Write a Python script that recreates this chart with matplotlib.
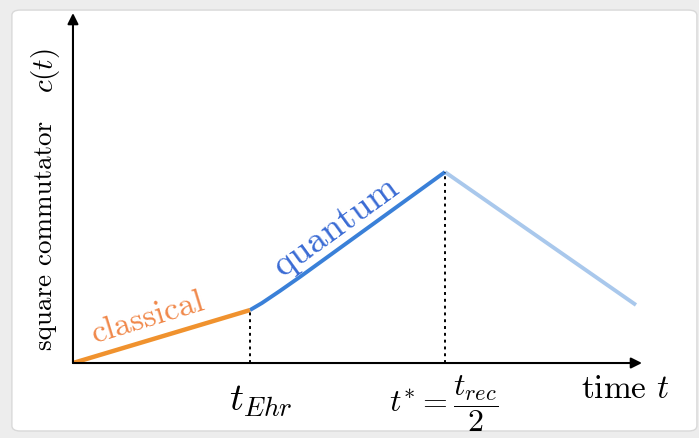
import matplotlib
matplotlib.use("Agg")
import matplotlib.pyplot as plt
from matplotlib.patches import FancyBboxPatch

plt.rcParams["mathtext.fontset"] = "cm"

# growth of the square commutator, arbitrary units (t_Ehr = 1)
t_classical = [0.0, 1.0]
c_classical = [0.0, 0.299]

t_quantum = [1.0, 1.068, 1.169, 1.282, 2.102]
c_quantum = [0.299, 0.339, 0.407, 0.486, 1.079]

t_decay = [2.102, 3.181]
c_decay = [1.079, 0.328]

t_ehr = 1.0
t_star = 2.102

orange = "#f0922e"
blue = "#3a80d8"
light_blue = "#a9c8ec"

fig = plt.figure(figsize=(6.99, 4.38), dpi=100, facecolor="#ededed")

# white card with a rounded corner, kept behind the axes
card = FancyBboxPatch((0.017, 0.016), 0.98, 0.961,
                      boxstyle="round,pad=0,rounding_size=0.012",
                      transform=fig.transFigure, facecolor="white",
                      edgecolor="#d9d9d9", lw=1.0, zorder=-10)
fig.patches.append(card)

ax = fig.add_axes([0.1044, 0.1712, 0.814, 0.799])
ax.set_zorder(5)
ax.set_facecolor("none")
ax.set_xlim(0, 3.215)
ax.set_ylim(0, 1.977)
for s in ax.spines.values():
    s.set_visible(False)
ax.set_xticks([])
ax.set_yticks([])

# axes with arrow heads
arrow = dict(arrowstyle="-|>", color="black", lw=1.5, mutation_scale=16,
             shrinkA=0, shrinkB=0)
ax.annotate("", xy=(1, 0), xytext=(0, 0), xycoords="axes fraction",
            arrowprops=arrow, annotation_clip=False)
ax.annotate("", xy=(0, 1), xytext=(0, 0), xycoords="axes fraction",
            arrowprops=arrow, annotation_clip=False)

ax.plot(t_decay, c_decay, color=light_blue, lw=2.8, solid_capstyle="butt")
ax.plot(t_quantum, c_quantum, color=blue, lw=2.8, solid_capstyle="butt")
ax.plot(t_classical, c_classical, color=orange, lw=3.2, solid_capstyle="butt")

# dotted drop lines to the time axis
ax.plot([t_ehr, t_ehr], [0, c_classical[-1]], color="black", lw=1.4,
        ls=(0, (1.5, 2)))
ax.plot([t_star, t_star], [0, c_quantum[-1]], color="black", lw=1.4,
        ls=(0, (1.5, 2)))

# regime labels sit on top of their segments
ax.text(0.44, 0.21, "classical", family="cmr10", fontsize=24,
        color="#f0884a", rotation=17, ha="center", va="baseline",
        rotation_mode="anchor")
ax.text(1.52, 0.725, "quantum", family="cmr10", fontsize=27,
        color="#3a6bd4", rotation=36, ha="center", va="baseline",
        rotation_mode="anchor")

ax.text(3.124, -0.147, r"time $t$", family="cmr10", fontsize=24,
        ha="center", va="center", clip_on=False)
ax.text(t_ehr + 0.062, -0.209, r"$t_{Ehr}$", fontsize=28,
        ha="center", va="center", clip_on=False)
ax.text(t_star - 0.006, -0.232, r"$t^{*}=\dfrac{t_{rec}}{2}$", fontsize=23,
        ha="center", va="center", clip_on=False)

ax.text(-0.158, 0.718, "square commutator", family="cmr10", fontsize=19.5,
        rotation=90, ha="center", va="center", clip_on=False)
ax.text(-0.158, 1.65, r"$c(t)$", fontsize=21,
        rotation=90, ha="center", va="center", clip_on=False)

fig.savefig("out.png", dpi=100, facecolor=fig.get_facecolor())
